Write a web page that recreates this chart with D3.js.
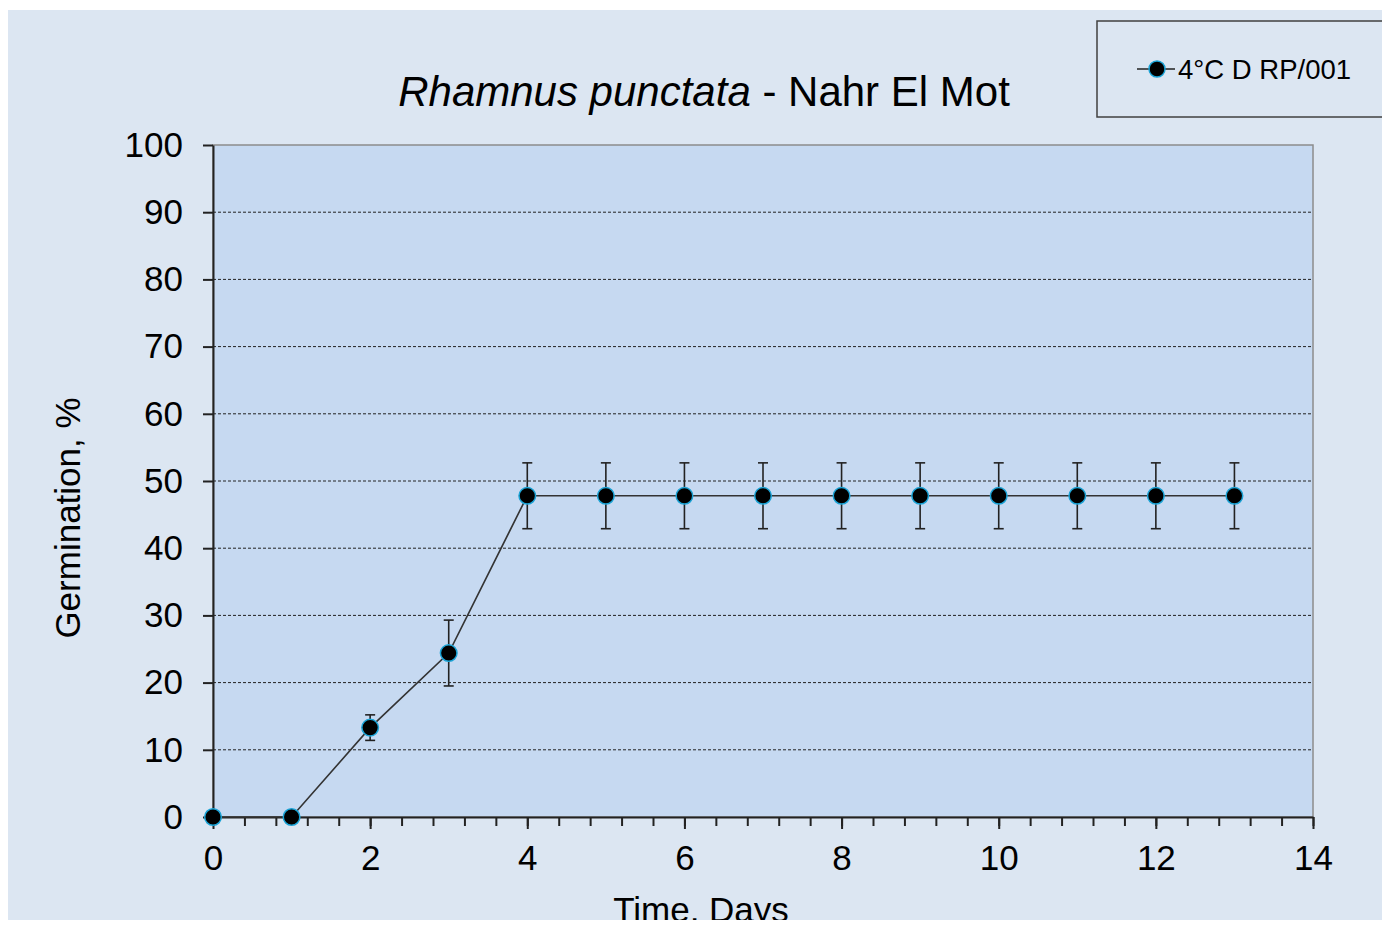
<!DOCTYPE html>
<html>
<head>
<meta charset="utf-8">
<script src="https://cdn.jsdelivr.net/npm/d3@7"></script>
<style>
    body { margin: 0; background: #ffffff; }
    svg { display: block; font-family: "Liberation Sans", Arial, sans-serif; }
</style>
</head>
<body>
<div id="chart"></div>
<script>
// data
const days = [0, 1, 2, 3, 4, 5, 6, 7, 8, 9, 10, 11, 12, 13];
const germination = [0, 0, 13.3, 24.4, 47.8, 47.8, 47.8, 47.8, 47.8, 47.8, 47.8, 47.8, 47.8, 47.8];
const errors = [0, 0, 1.9, 4.9, 4.9, 4.9, 4.9, 4.9, 4.9, 4.9, 4.9, 4.9, 4.9, 4.9];
const xTicks = [0, 2, 4, 6, 8, 10, 12, 14];
const yTicks = [0, 10, 20, 30, 40, 50, 60, 70, 80, 90, 100];
const seriesName = '4°C D RP/001';

const width = 1387, height = 925;
const plot = { left: 213, right: 1313, top: 145, bottom: 817 };

const svg = d3.select('#chart').append('svg')
    .attr('width', width)
    .attr('height', height);

// chart background
svg.append('rect')
    .attr('x', 8).attr('y', 10)
    .attr('width', 1374).attr('height', 910)
    .attr('fill', '#dce6f2');

const x = d3.scaleLinear().domain([0, 14]).range([plot.left, plot.right]);
const y = d3.scaleLinear().domain([0, 100]).range([plot.bottom, plot.top]);

// plot area
svg.append('rect')
    .attr('x', plot.left).attr('y', plot.top)
    .attr('width', plot.right - plot.left).attr('height', plot.bottom - plot.top)
    .attr('fill', '#c6d9f1')
    .attr('stroke', '#8c8c8c')
    .attr('stroke-width', 1.5);

// gridlines
svg.append('g')
    .selectAll('line')
    .data(yTicks.filter(d => d > 0 && d < 100))
    .enter().append('line')
    .attr('x1', plot.left).attr('x2', plot.right)
    .attr('y1', d => y(d)).attr('y2', d => y(d))
    .attr('stroke', '#222')
    .attr('stroke-width', 1)
    .attr('stroke-dasharray', '3,2');

// x axis: minor ticks every 0.4 days
const minor = d3.range(0, 14.001, 0.4).map(d => Math.round(d * 10) / 10);
const xAxisMinor = d3.axisBottom(x).tickValues(minor).tickSize(9).tickFormat('');
svg.append('g')
    .attr('transform', `translate(0,${plot.bottom})`)
    .call(xAxisMinor)
    .call(g => g.select('.domain').remove())
    .selectAll('line').attr('stroke', '#222').attr('stroke-width', 2);

const xAxis = d3.axisBottom(x).tickValues(xTicks).tickSize(12).tickPadding(16).tickSizeOuter(0);
svg.append('g')
    .attr('transform', `translate(0,${plot.bottom})`)
    .call(xAxis)
    .call(g => g.select('.domain').attr('stroke', '#222').attr('stroke-width', 2))
    .call(g => g.selectAll('line').attr('stroke', '#222').attr('stroke-width', 2))
    .call(g => g.selectAll('text')
        .attr('font-size', 35)
        .attr('font-family', '"Liberation Sans", Arial, sans-serif')
        .attr('fill', '#000'));

const yAxis = d3.axisLeft(y).tickValues(yTicks).tickSize(10).tickPadding(20).tickSizeOuter(0);
svg.append('g')
    .attr('transform', `translate(${plot.left},0)`)
    .call(yAxis)
    .call(g => g.select('.domain').attr('stroke', '#222').attr('stroke-width', 2))
    .call(g => g.selectAll('line').attr('stroke', '#222').attr('stroke-width', 2))
    .call(g => g.selectAll('text')
        .attr('font-size', 35)
        .attr('font-family', '"Liberation Sans", Arial, sans-serif')
        .attr('fill', '#000'));

const points = days.map((d, i) => ({ day: d, value: germination[i], err: errors[i] }));

// error bars
const bars = svg.append('g').attr('stroke', '#222').attr('stroke-width', 1.6);
points.filter(d => d.err > 0).forEach(d => {
    const cx = x(d.day);
    bars.append('line').attr('x1', cx).attr('x2', cx)
        .attr('y1', y(d.value + d.err)).attr('y2', y(d.value - d.err));
    bars.append('line').attr('x1', cx - 5).attr('x2', cx + 5)
        .attr('y1', y(d.value + d.err)).attr('y2', y(d.value + d.err));
    bars.append('line').attr('x1', cx - 5).attr('x2', cx + 5)
        .attr('y1', y(d.value - d.err)).attr('y2', y(d.value - d.err));
});

// series line
const line = d3.line().x(d => x(d.day)).y(d => y(d.value));
svg.append('path')
    .datum(points)
    .attr('d', line)
    .attr('fill', 'none')
    .attr('stroke', '#333')
    .attr('stroke-width', 1.6);

// markers
svg.append('g')
    .selectAll('circle')
    .data(points)
    .enter().append('circle')
    .attr('cx', d => x(d.day))
    .attr('cy', d => y(d.value))
    .attr('r', 8.3)
    .attr('fill', '#000')
    .attr('stroke', '#1aa3d6')
    .attr('stroke-width', 1.5);

// title
const title = svg.append('text')
    .attr('x', 704).attr('y', 106)
    .attr('text-anchor', 'middle')
    .attr('font-size', 42)
    .attr('fill', '#000');
title.append('tspan').attr('font-style', 'italic').text('Rhamnus punctata');
title.append('tspan').text(' - Nahr El Mot');

// axis titles
svg.append('text')
    .attr('transform', 'translate(80,518) rotate(-90)')
    .attr('text-anchor', 'middle')
    .attr('font-size', 35)
    .attr('fill', '#000')
    .text('Germination, %');

svg.append('text')
    .attr('x', 701).attr('y', 922)
    .attr('text-anchor', 'middle')
    .attr('font-size', 35)
    .attr('fill', '#000')
    .text('Time, Days');

// legend
const legend = svg.append('g');
legend.append('rect')
    .attr('x', 1097).attr('y', 21)
    .attr('width', 300).attr('height', 96)
    .attr('fill', 'none')
    .attr('stroke', '#404040')
    .attr('stroke-width', 1.5);
legend.append('line')
    .attr('x1', 1137).attr('x2', 1175)
    .attr('y1', 69).attr('y2', 69)
    .attr('stroke', '#222').attr('stroke-width', 1.5);
legend.append('circle')
    .attr('cx', 1157).attr('cy', 69).attr('r', 8)
    .attr('fill', '#000').attr('stroke', '#1aa3d6').attr('stroke-width', 1.5);
legend.append('text')
    .attr('x', 1178).attr('y', 79)
    .attr('font-size', 27.5)
    .attr('fill', '#000')
    .text(seriesName);

// white strip beyond chart area
svg.append('rect').attr('x', 1382).attr('y', 0).attr('width', 5).attr('height', height).attr('fill', '#fff');
svg.append('rect').attr('x', 0).attr('y', 920).attr('width', width).attr('height', 5).attr('fill', '#fff');
</script>
</body>
</html>
